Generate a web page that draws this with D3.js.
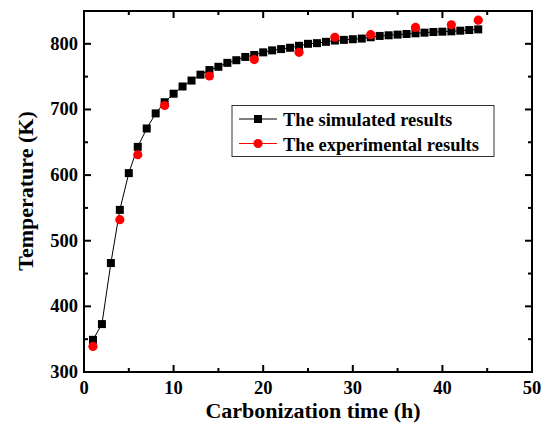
<!DOCTYPE html>
<html>
<head>
<meta charset="utf-8">
<script src="https://cdn.jsdelivr.net/npm/d3@7"></script>
<style>
    body { margin: 0; background: #fff; }
    svg text { font-family: "Liberation Serif", "Times New Roman", serif; font-weight: bold; }
</style>
</head>
<body>
<div id="chart"></div>
<script>
// Temperature vs carbonization time

const simTime = d3.range(1, 45);
const simTemp = [349, 373, 466, 547, 603, 643, 671, 694, 711, 724, 735, 744, 753, 760, 765, 771, 775,
    780, 783, 787, 790, 792, 794, 797, 800, 801, 803, 805, 806, 807, 808, 810, 812, 813, 814, 815,
    816, 817, 818, 818.5, 819, 820, 821, 822];

const expTime = [1, 4, 6, 9, 14, 19, 24, 28, 32, 37, 41, 44];
const expTemp = [339, 532, 631, 706, 751, 776, 787, 810, 814, 825, 829, 836];

const xTicks = [0, 10, 20, 30, 40, 50];
const yTicks = [300, 400, 500, 600, 700, 800];

const legendLabels = ['The simulated results', 'The experimental results'];

function drawChart() {
    const width = 546, height = 427;
    const margin = { left: 84, right: 14, top: 11, bottom: 55 };

    const svg = d3.select('#chart').append('svg')
        .attr('width', width)
        .attr('height', height);

    const x = d3.scaleLinear().domain([0, 50]).range([margin.left, width - margin.right]);
    const y = d3.scaleLinear().domain([300, 850]).range([height - margin.bottom, margin.top]);

    const x0 = x.range()[0], x1 = x.range()[1];
    const y0 = y.range()[0], y1 = y.range()[1];

    // frame + ticks (inward on all four sides)
    const axisGroup = svg.append('g');
    const majorLen = 7, minorLen = 4;

    d3.range(0, 51, 5).forEach(v => {
        const len = v % 10 === 0 ? majorLen : minorLen;
        axisGroup.append('line').attr('x1', x(v)).attr('x2', x(v)).attr('y1', y0).attr('y2', y0 - len);
        axisGroup.append('line').attr('x1', x(v)).attr('x2', x(v)).attr('y1', y1).attr('y2', y1 + len);
    });
    d3.range(300, 851, 50).forEach(v => {
        const len = v % 100 === 0 ? majorLen : minorLen;
        axisGroup.append('line').attr('y1', y(v)).attr('y2', y(v)).attr('x1', x0).attr('x2', x0 + len);
        axisGroup.append('line').attr('y1', y(v)).attr('y2', y(v)).attr('x1', x1).attr('x2', x1 - len);
    });
    axisGroup.selectAll('line').attr('stroke', '#000').attr('stroke-width', 2);

    axisGroup.append('rect')
        .attr('x', x0).attr('y', y1)
        .attr('width', x1 - x0).attr('height', y0 - y1)
        .attr('fill', 'none')
        .attr('stroke', '#000')
        .attr('stroke-width', 2);

    // tick labels
    svg.selectAll('.xlabel')
        .data(xTicks)
        .enter()
        .append('text')
        .attr('x', d => x(d))
        .attr('y', y0 + 22)
        .attr('text-anchor', 'middle')
        .attr('font-size', '18.5px')
        .text(d => d);

    svg.selectAll('.ylabel')
        .data(yTicks)
        .enter()
        .append('text')
        .attr('x', x0 - 6)
        .attr('y', d => y(d) + 6)
        .attr('text-anchor', 'end')
        .attr('font-size', '18.5px')
        .text(d => d);

    // axis titles
    svg.append('text')
        .attr('x', 313)
        .attr('y', 418)
        .attr('text-anchor', 'middle')
        .attr('font-size', '22px')
        .text('Carbonization time (h)');

    svg.append('text')
        .attr('transform', `translate(33, 191) rotate(-90)`)
        .attr('text-anchor', 'middle')
        .attr('font-size', '22px')
        .text('Temperature (K)');

    // simulated line + squares
    const simData = simTime.map((t, i) => ({ t: t, v: simTemp[i] }));
    const line = d3.line().x(d => x(d.t)).y(d => y(d.v));

    svg.append('path')
        .datum(simData)
        .attr('d', line)
        .attr('fill', 'none')
        .attr('stroke', '#000')
        .attr('stroke-width', 1);

    const sq = 8;
    svg.selectAll('.sim')
        .data(simData)
        .enter()
        .append('rect')
        .attr('x', d => x(d.t) - sq / 2)
        .attr('y', d => y(d.v) - sq / 2)
        .attr('width', sq)
        .attr('height', sq)
        .attr('fill', '#000');

    // experimental circles
    const expData = expTime.map((t, i) => ({ t: t, v: expTemp[i] }));
    svg.selectAll('.exp')
        .data(expData)
        .enter()
        .append('circle')
        .attr('cx', d => x(d.t))
        .attr('cy', d => y(d.v))
        .attr('r', 4.6)
        .attr('fill', '#ff0000');

    // legend
    const legend = svg.append('g');
    legend.append('rect')
        .attr('x', 232).attr('y', 105.5)
        .attr('width', 262).attr('height', 51)
        .attr('fill', '#fff')
        .attr('stroke', '#333')
        .attr('stroke-width', 1);

    const rows = [
        { label: legendLabels[0], color: '#000', marker: 'square', y: 119 },
        { label: legendLabels[1], color: '#ff0000', marker: 'circle', y: 143.5 }
    ];
    rows.forEach(r => {
        legend.append('line')
            .attr('x1', 239).attr('x2', 277)
            .attr('y1', r.y).attr('y2', r.y)
            .attr('stroke', r.color)
            .attr('stroke-width', 1);
        if (r.marker === 'square') {
            legend.append('rect')
                .attr('x', 258 - sq / 2).attr('y', r.y - sq / 2)
                .attr('width', sq).attr('height', sq)
                .attr('fill', r.color);
        } else {
            legend.append('circle')
                .attr('cx', 258).attr('cy', r.y).attr('r', 4.6)
                .attr('fill', r.color);
        }
        legend.append('text')
            .attr('x', 283)
            .attr('y', r.y + 7)
            .attr('font-size', '18.5px')
            .text(r.label);
    });
}

drawChart();
</script>
</body>
</html>
